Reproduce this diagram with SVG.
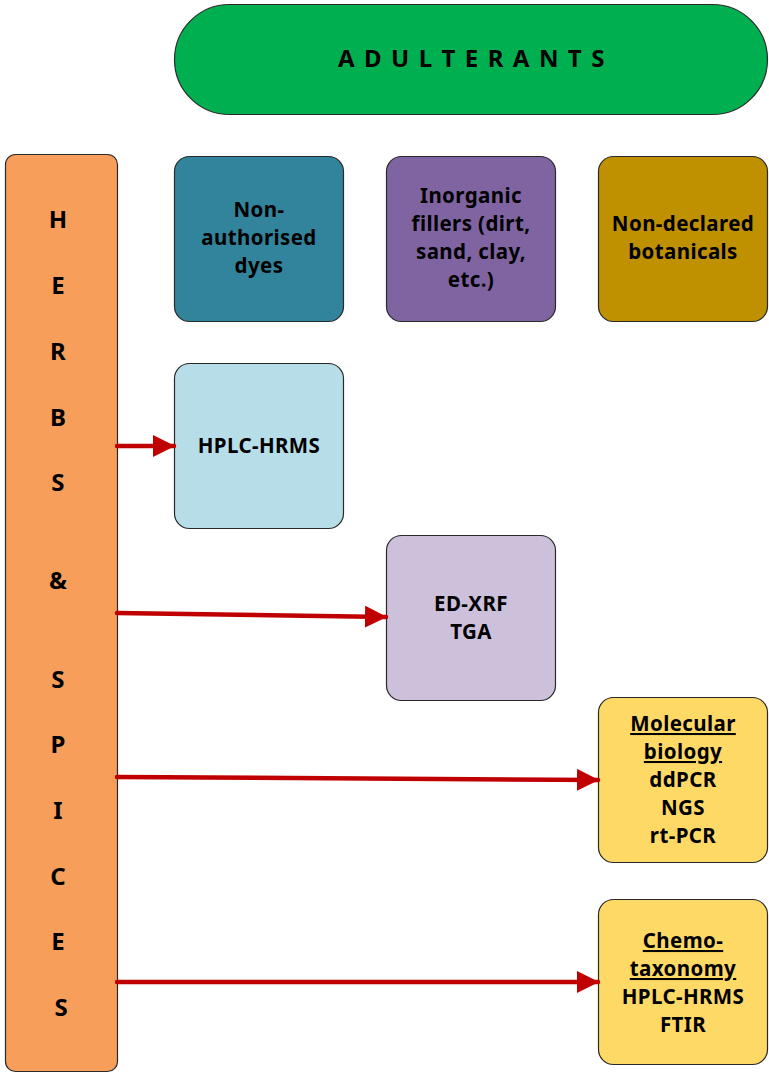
<svg xmlns="http://www.w3.org/2000/svg" width="769" height="1073" viewBox="0 0 769 1073">
<style>
.box{stroke:#2a2a2a;stroke-width:1.2}
text{font-family:"Noto Sans","DejaVu Sans",sans-serif;font-weight:bold;fill:#000;text-anchor:middle}
.t{font-size:20.5px;letter-spacing:0.4px}
.big{font-size:24px}
.u{text-decoration:underline}
.arr{stroke:#C00000;stroke-width:4.5;fill:none;stroke-linecap:round}
</style>
<defs>
<marker id="ah" markerUnits="userSpaceOnUse" markerWidth="22" markerHeight="22" refX="21" refY="11" orient="auto">
<path d="M0,0 L22,11 L0,22 Z" fill="#C00000"/>
</marker>
</defs>
<rect width="769" height="1073" fill="#fff"/>
<g id="adulterants">
<rect class="box" x="174.5" y="4.5" width="593" height="110" rx="55" fill="#00B050"/>
<text class="big" x="472" y="66.5" letter-spacing="1.6">A D U L T E R A N T S</text>
</g>
<g id="herbs-spices">
<rect class="box" x="5.5" y="154.5" width="112" height="917" rx="10" fill="#F79E5B"/>
<text class="big" x="61">
<tspan x="61" y="228">H</tspan>
<tspan x="61" y="294">E</tspan>
<tspan x="61" y="360">R</tspan>
<tspan x="61" y="426">B</tspan>
<tspan x="61" y="491">S</tspan>
<tspan x="61" y="589">&amp;</tspan>
<tspan x="61" y="688">S</tspan>
<tspan x="61" y="753">P</tspan>
<tspan x="61" y="819">I</tspan>
<tspan x="61" y="885">C</tspan>
<tspan x="61" y="950">E</tspan>
<tspan x="61" y="1016">S</tspan>
</text>
</g>
<g id="dyes">
<rect class="box" x="174.5" y="156.5" width="169" height="165" rx="15" fill="#31849B"/>
<text class="t"><tspan x="259" y="217">Non-</tspan><tspan x="259" y="245">authorised</tspan><tspan x="259" y="273">dyes</tspan></text>
</g>
<g id="fillers">
<rect class="box" x="386.5" y="156.5" width="169" height="165" rx="15" fill="#8064A2"/>
<text class="t"><tspan x="471" y="203">Inorganic</tspan><tspan x="471" y="231">fillers (dirt,</tspan><tspan x="471" y="259">sand, clay,</tspan><tspan x="471" y="287">etc.)</tspan></text>
</g>
<g id="botanicals">
<rect class="box" x="598.5" y="156.5" width="169" height="165" rx="15" fill="#BF9000"/>
<text class="t"><tspan x="683" y="231">Non-declared</tspan><tspan x="683" y="259">botanicals</tspan></text>
</g>
<g id="hplc">
<rect class="box" x="174.5" y="363.5" width="169" height="165" rx="15" fill="#B7DDE8"/>
<text class="t" x="259" y="453">HPLC-HRMS</text>
</g>
<g id="edxrf">
<rect class="box" x="386.5" y="535.5" width="169" height="165" rx="15" fill="#CCC0DA"/>
<text class="t"><tspan x="471" y="611">ED-XRF</tspan><tspan x="471" y="639">TGA</tspan></text>
</g>
<g id="molecular">
<rect class="box" x="598.5" y="697.5" width="169" height="165" rx="15" fill="#FFD966"/>
<text class="t"><tspan class="u" x="683" y="731">Molecular</tspan><tspan class="u" x="683" y="759">biology</tspan><tspan x="683" y="787">ddPCR</tspan><tspan x="683" y="815">NGS</tspan><tspan x="683" y="843">rt-PCR</tspan></text>
</g>
<g id="chemo">
<rect class="box" x="598.5" y="899.5" width="169" height="165" rx="15" fill="#FFD966"/>
<text class="t"><tspan class="u" x="683" y="948">Chemo-</tspan><tspan class="u" x="683" y="976">taxonomy</tspan><tspan x="683" y="1004">HPLC-HRMS</tspan><tspan x="683" y="1032">FTIR</tspan></text>
</g>
<g id="connectors">
<path class="arr" d="M117,446 L174,446" marker-end="url(#ah)"/>
<path class="arr" d="M117,613 L386,617" marker-end="url(#ah)"/>
<path class="arr" d="M117,777 L598,780" marker-end="url(#ah)"/>
<path class="arr" d="M117,982 L598,982" marker-end="url(#ah)"/>
</g>
</svg>
